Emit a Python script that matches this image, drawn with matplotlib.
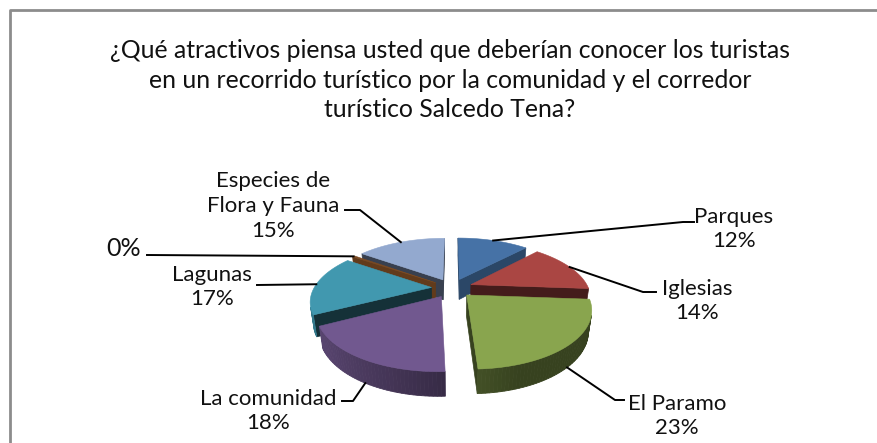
import numpy as np
import matplotlib.pyplot as plt
from matplotlib.patches import Polygon
import matplotlib.colors as mcolors

# Datos de la encuesta
categorias = ['Parques', 'Iglesias', 'El Paramo', 'La comunidad', 'Lagunas', '', 'Especies de\nFlora y Fauna']
porcentajes = [12, 14, 23, 18, 17, 0.4, 15]
etiquetas_pct = ['12%', '14%', '23%', '18%', '17%', '0%', '15%']
colores = ['#4672A6', '#AA4643', '#89A54E', '#71588F', '#4198AF', '#7B4A22', '#93A9CF']

titulo = ('¿Qué atractivos piensa usted que deberían conocer los turistas\n'
          'en un recorrido turístico por la comunidad y el corredor\n'
          'turístico Salcedo Tena?')

# Camara / geometria del pastel 3D (en pixeles de la figura)
cx0, cy0 = 452, 288
F, D = 470, 4.0
sen_phi = 0.46
cos_phi = np.sqrt(1 - sen_phi ** 2)
alto = 0.2       # grosor del pastel
separa = 0.175   # explosion de cada porcion
camara = np.array([0, -D * cos_phi, D * sen_phi])

# posiciones de las etiquetas: codo de la linea, fin de la linea, centro del texto, tamano
layout = [
    ((683, 222), (694, 222), (734, 229), 16),
    ((643, 292), (656, 292), (697, 301), 16),
    ((615, 400), (624, 400), (677, 416), 16),
    ((353, 401), (342, 401), (268, 411), 16),
    ((257, 285), (257, 285), (212, 287), 16),
    ((147, 255), (147, 255), (124, 249), 18),
    ((360, 210), (345, 210), (273, 206), 16),
]


def proyectar(p):
    X, Y, Z = p
    prof = D + Y * cos_phi - Z * sen_phi
    return cx0 + X * F / prof, cy0 - (Y * sen_phi + Z * cos_phi) * F / prof


def visible(p, n):
    return np.dot(camara - np.asarray(p), n) > 0


def oscurecer(c, f):
    r, g, b = mcolors.to_rgb(c)
    return (min(r * f, 1), min(g * f, 1), min(b * f, 1))


fig = plt.figure(figsize=(8.78, 4.43), dpi=100)
ax = fig.add_axes([0, 0, 1, 1])
ax.set_xlim(0, 878)
ax.set_ylim(443, 0)
ax.axis('off')

# marco del grafico
ax.plot([10, 10, 878], [443, 10, 10], color='#8c8c8c', lw=2, solid_capstyle='butt')

total = sum(porcentajes)
bordes = np.concatenate([[0], np.cumsum(porcentajes)]) / total * 360
medios = (bordes[:-1] + bordes[1:]) / 2

orden = np.argsort(-np.cos(np.radians(medios)))   # de atras hacia adelante
sombra_cara = [0.62, 0.4, 0.4, 0.4, 0.32, 0.8, 0.38]

anclas = {}
for i in orden:
    a, b, m = bordes[i], bordes[i + 1], medios[i]
    mr = np.radians(m)
    ox, oy = separa * np.sin(mr), separa * np.cos(mr)
    col = colores[i]
    th = np.radians(np.linspace(a, b, max(int((b - a) / 1.5), 2) + 1))
    arr = [(ox + np.sin(t), oy + np.cos(t)) for t in th]
    c0 = (ox, oy)

    # caras radiales
    na = (-np.cos(np.radians(a)), np.sin(np.radians(a)))
    nb = (np.cos(np.radians(b)), -np.sin(np.radians(b)))
    for borde, n in ((arr[0], na), (arr[-1], nb)):
        if visible((c0[0], c0[1], 0), (n[0], n[1], 0)):
            quad = [proyectar((c0[0], c0[1], 0)), proyectar((borde[0], borde[1], 0)),
                    proyectar((borde[0], borde[1], -alto)), proyectar((c0[0], c0[1], -alto))]
            ax.add_patch(Polygon(quad, closed=True, fc=oscurecer(col, sombra_cara[i]),
                                 ec=oscurecer(col, sombra_cara[i]), lw=0.5))

    # pared exterior
    for k in range(len(th) - 1):
        tm = (th[k] + th[k + 1]) / 2
        n = (np.sin(tm), np.cos(tm), 0)
        p = (ox + np.sin(tm), oy + np.cos(tm), -alto / 2)
        if visible(p, n):
            f = 0.5 + 0.32 * (-np.sin(tm))
            f = max(f, 0.4)
            quad = [proyectar((arr[k][0], arr[k][1], 0)), proyectar((arr[k + 1][0], arr[k + 1][1], 0)),
                    proyectar((arr[k + 1][0], arr[k + 1][1], -alto)), proyectar((arr[k][0], arr[k][1], -alto))]
            ax.add_patch(Polygon(quad, closed=True, fc=oscurecer(col, f), ec=oscurecer(col, f), lw=0.6))

    # cara superior
    sup = [proyectar((c0[0], c0[1], 0))] + [proyectar((x, y, 0)) for x, y in arr]
    ax.add_patch(Polygon(sup, closed=True, fc=col, ec=col, lw=0.4))

    # punto de anclaje para la linea guia
    pa = (ox + np.sin(mr), oy + np.cos(mr))
    z = -alto if visible((pa[0], pa[1], 0), (np.sin(mr), np.cos(mr), 0)) else 0
    anclas[i] = proyectar((pa[0], pa[1], z))

# lineas guia y etiquetas
for i, (codo, fin, txt, fs) in enumerate(layout):
    xs = [anclas[i][0], codo[0], fin[0]]
    ys = [anclas[i][1], codo[1], fin[1]]
    ax.plot(xs, ys, color='black', lw=1.4, zorder=5)
    texto = (categorias[i] + '\n' + etiquetas_pct[i]) if categorias[i] else etiquetas_pct[i]
    ax.text(txt[0], txt[1], texto, ha='center', va='center', fontsize=fs, family='Lato',
            linespacing=1.3, color='#111111', zorder=6)

ax.text(450, 80, titulo, ha='center', va='center', fontsize=17.8, family='Lato',
        linespacing=1.32, color='#111111')

fig.savefig('out.png', dpi=100)
